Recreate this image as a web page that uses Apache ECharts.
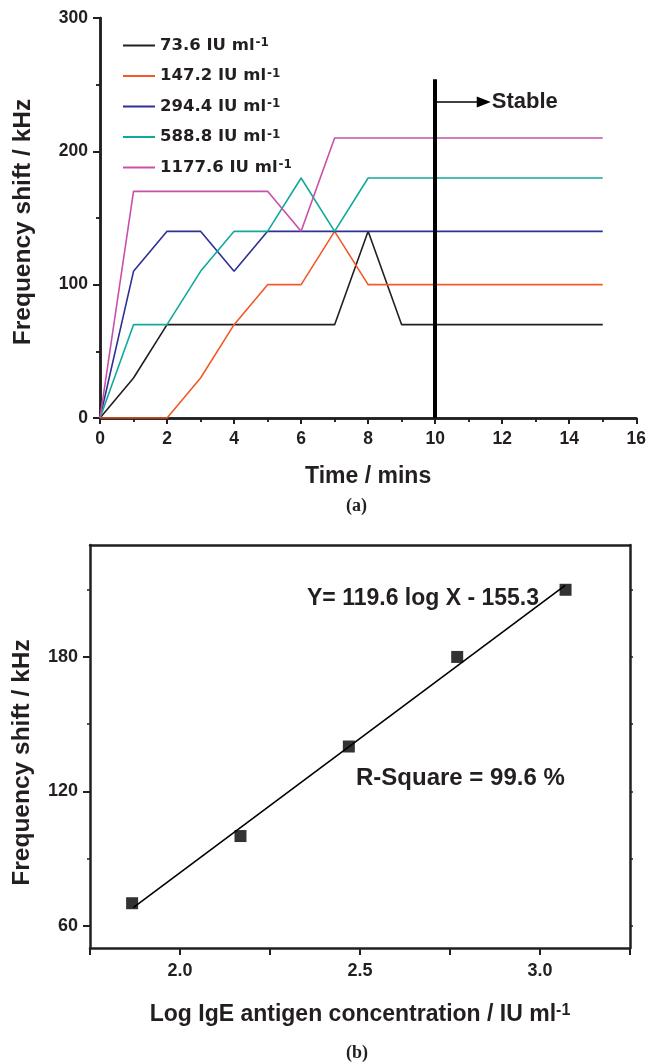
<!DOCTYPE html>
<html><head><meta charset="utf-8">
<script src="https://cdn.jsdelivr.net/npm/echarts@6/dist/echarts.min.js"></script>
<style>html,body{margin:0;padding:0;background:#fff}#c{width:649px;height:1063px}</style>
</head><body><div id="c"></div>
<script>
// ---- data (a) ----
const times = [0,1,2,3,4,5,6,7,8,9,10,11,12,13,14,15];
const concLabels = ['73.6','147.2','294.4','588.8','1177.6'];
const s736   = [0,30,70,70,70,70,70,70,140,70,70,70,70,70,70,70];
const s1472  = [0,0,0,30,70,100,100,140,100,100,100,100,100,100,100,100];
const s2944  = [0,110,140,140,110,140,140,140,140,140,140,140,140,140,140,140];
const s5888  = [0,70,70,110,140,140,180,140,180,180,180,180,180,180,180,180];
const s11776 = [0,170,170,170,170,170,140,210,210,210,210,210,210,210,210,210];
const stableX = 10, stableTop = 254, arrowY = 237, arrowEndX = 11.45;
// ---- data (b) ----
const logConc = [1.867,2.168,2.469,2.770,3.071];
const shiftVals = [70,100,140,180,210];
const fitX = [1.87,3.07];
const fitY = [68,212];
const yTicksB = [60,120,180];
const yMinorB = [90,150,210];

const FONT = '"Liberation Sans", Arial, sans-serif';
const FONT2 = '"DejaVu Sans", sans-serif';
const K = '#231f20';
const colors = ['#231f20','#f15a29','#2e3192','#10a99c','#c850a8'];
const seriesArr = [s736,s1472,s2944,s5888,s11776];

const chart = echarts.init(document.getElementById('c'));

const axisLine = {show:true, lineStyle:{color:K, width:2.5}};
const tickLbl = {color:K, fontFamily:FONT, fontWeight:'bold', fontSize:17.5};
const tickLblB = {color:K, fontFamily:FONT, fontWeight:'bold', fontSize:18};

const series = seriesArr.map((arr,i)=>({
  name: concLabels[i], type:'line', xAxisIndex:0, yAxisIndex:0,
  data: times.map((t,j)=>[t,arr[j]]), symbol:'none', silent:true,
  lineStyle:{width:1.6,color:colors[i]}, itemStyle:{color:colors[i]}, z:3
}));
series.push({
  type:'line', xAxisIndex:0, yAxisIndex:0, data:[], silent:true,
  markLine:{
    silent:true, animation:false, symbol:['none','none'],
    data:[
      [{coord:[stableX,0], lineStyle:{width:4,color:'#000',type:'solid'}, label:{show:false}},
       {coord:[stableX,stableTop]}],
      [{coord:[stableX,arrowY], symbol:'none', lineStyle:{width:1.5,color:'#000',type:'solid'},
        label:{show:true, position:'end', formatter:'Stable', color:K, fontFamily:FONT, fontWeight:'bold', fontSize:22, distance:8}},
       {coord:[arrowEndX,arrowY], symbol:'triangle', symbolSize:[11,14]}]
    ]
  }
});
series.push({
  type:'line', xAxisIndex:2, yAxisIndex:2, silent:true,
  data: fitX.map((x,i)=>[x,fitY[i]]), symbol:'none',
  lineStyle:{width:1.6,color:'#000'}, z:2
});
series.push({
  type:'scatter', xAxisIndex:2, yAxisIndex:2, silent:true,
  data: logConc.map((x,i)=>[x,shiftVals[i]]), symbol:'rect', symbolSize:12,
  itemStyle:{color:'#000'}, z:3
});

const option = {
  animation:false,
  backgroundColor:'#fff',
  grid:[
    {left:100, top:18, width:540, height:400},
    {left:90, top:545, width:540, height:403}
  ],
  legend:{
    data:concLabels, orient:'vertical', left:118, top:32, itemGap:13.5,
    icon:'rect', itemWidth:32, itemHeight:2, selectedMode:false,
    formatter: n => '{n|'+n+' IU ml}{s|-1}',
    textStyle:{color:K, rich:{
      n:{fontFamily:FONT2, fontWeight:'bold', fontSize:16.5, color:K},
      s:{fontFamily:FONT2, fontWeight:'bold', fontSize:12, color:K, verticalAlign:'top', padding:[0,0,0,1]}
    }}
  },
  xAxis:[
    {type:'value', gridIndex:0, min:0, max:16, interval:2, position:'bottom',
     axisLine, splitLine:{show:false},
     axisTick:{show:true, length:6, lineStyle:{color:K,width:2}},
     minorTick:{show:true, splitNumber:2, length:4, lineStyle:{color:K,width:1.5}},
     axisLabel:Object.assign({margin:12}, tickLbl),
     name:'Time / mins', nameLocation:'middle', nameGap:47,
     nameTextStyle:{color:K, fontFamily:FONT, fontWeight:'bold', fontSize:23}},
    {type:'value', gridIndex:0, min:0, max:16, interval:2, position:'top',
     axisLine, splitLine:{show:false}, axisLabel:{show:false},
     axisTick:{show:true, inside:true, length:6, lineStyle:{color:K,width:2}},
     minorTick:{show:true, splitNumber:2, length:4, lineStyle:{color:K,width:1.5}}},
    {type:'value', gridIndex:1, min:1.75, max:3.25, interval:0.25, position:'bottom',
     axisLine, splitLine:{show:false},
     axisTick:{show:true, length:7, lineStyle:{color:K,width:2}},
     axisLabel:Object.assign({margin:14, formatter:v => (Math.abs(v*2-Math.round(v*2))<1e-6 ? v.toFixed(1) : '')}, tickLblB),
     name:'{n|Log IgE antigen concentration / IU ml}{s|-1}', nameLocation:'middle', nameGap:55,
     nameTextStyle:{color:K, rich:{
       n:{fontFamily:FONT, fontWeight:'bold', fontSize:23, color:K},
       s:{fontFamily:FONT, fontWeight:'bold', fontSize:16, color:K, verticalAlign:'top'}
     }}},
    {type:'value', gridIndex:1, min:1.75, max:3.25, interval:0.25, position:'top',
     axisLine, splitLine:{show:false}, axisLabel:{show:false}, axisTick:{show:false}}
  ],
  yAxis:[
    {type:'value', gridIndex:0, min:0, max:300, interval:100, position:'left',
     axisLine, splitLine:{show:false},
     axisTick:{show:true, length:7, lineStyle:{color:K,width:2}},
     minorTick:{show:true, splitNumber:2, length:4, lineStyle:{color:K,width:1.5}},
     axisLabel:Object.assign({margin:12}, tickLbl),
     name:'Frequency shift / kHz', nameLocation:'middle', nameGap:64,
     nameTextStyle:{color:K, fontFamily:FONT, fontWeight:'bold', fontSize:24.5, padding:[0,8,0,0]}},
    {type:'value', gridIndex:0, min:0, max:300, interval:100, position:'right',
     axisLine, splitLine:{show:false}, axisLabel:{show:false},
     axisTick:{show:true, inside:true, length:6, lineStyle:{color:K,width:2}},
     minorTick:{show:true, splitNumber:2, length:4, lineStyle:{color:K,width:1.5}}},
    {type:'value', gridIndex:1, min:50, max:230, position:'left',
     axisLine, splitLine:{show:false},
     axisTick:{show:true, length:7, customValues:yTicksB, lineStyle:{color:K,width:2}},
     axisLabel:Object.assign({margin:12, customValues:yTicksB}, tickLblB),
     name:'Frequency shift / kHz', nameLocation:'middle', nameGap:55,
     nameTextStyle:{color:K, fontFamily:FONT, fontWeight:'bold', fontSize:24.5, padding:[0,32,0,0]}},
    {type:'value', gridIndex:1, min:50, max:230, position:'left',
     axisLine:{show:false}, splitLine:{show:false}, axisLabel:{show:false},
     axisTick:{show:true, length:3, customValues:yMinorB, lineStyle:{color:K,width:1.5}}},
    {type:'value', gridIndex:1, min:50, max:230, position:'right',
     axisLine, splitLine:{show:false}, axisLabel:{show:false},
     axisTick:{show:true, length:3, customValues:yTicksB.concat(yMinorB), lineStyle:{color:K,width:1.5}}}
  ],
  series,
  graphic:[
    {type:'text', left:346, top:497, style:{text:'(a)', fill:K, font:'bold 18px "Liberation Serif", serif'}},
    {type:'text', left:346, top:1044, style:{text:'(b)', fill:K, font:'bold 18px "Liberation Serif", serif'}},
    {type:'text', left:307, top:587, style:{text:'Y= 119.6 log X - 155.3', fill:K, font:'bold 23px "Liberation Sans", Arial, sans-serif'}},
    {type:'text', left:356, top:766, style:{text:'R-Square = 99.6 %', fill:K, font:'bold 24px "Liberation Sans", Arial, sans-serif'}}
  ]
};
chart.setOption(option);
</script>
</body></html>
